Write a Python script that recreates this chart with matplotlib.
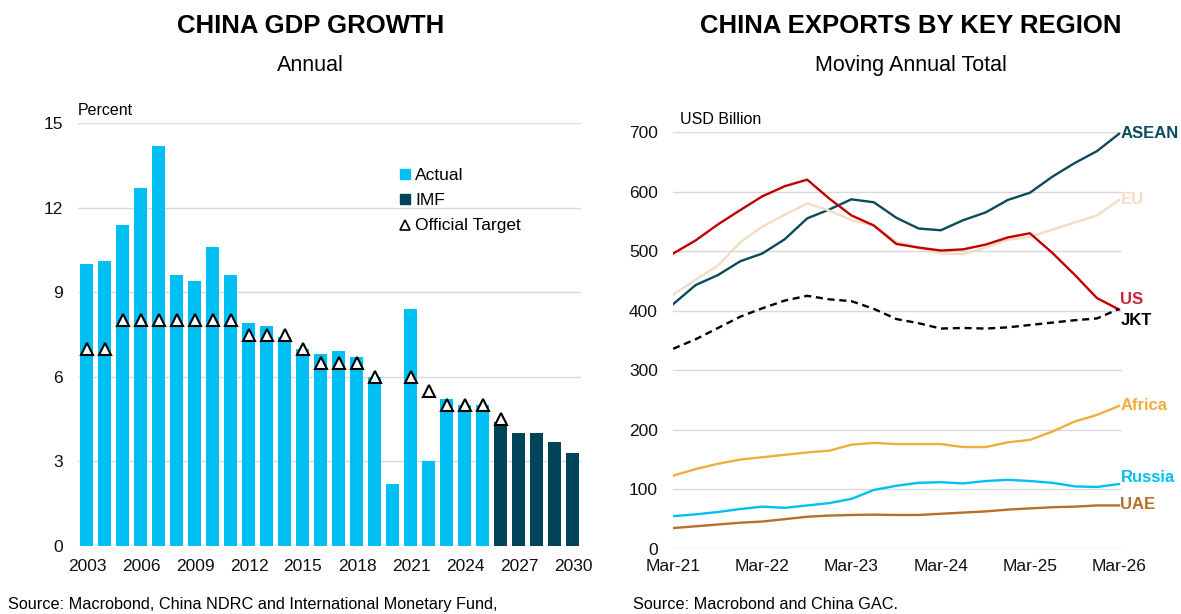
import numpy as np
import pandas as pd
import matplotlib
matplotlib.use("Agg")
from matplotlib import pyplot as plt
from matplotlib import dates as mdates
from matplotlib.lines import Line2D
from matplotlib.patches import Patch

plt.rcParams["font.family"] = ["Liberation Sans", "DejaVu Sans"]

# ---- left chart data: China GDP growth, percent
years = list(range(2003, 2031))
actual = [10.0, 10.1, 11.4, 12.7, 14.2, 9.6, 9.4, 10.6, 9.6, 7.9, 7.8, 7.4, 7.0,
          6.8, 6.9, 6.7, 6.0, 2.2, 8.4, 3.0, 5.2, 5.0, 5.0]
imf = [4.4, 4.0, 4.0, 3.7, 3.3]
target = [7, 7, 8, 8, 8, 8, 8, 8, 8, 7.5, 7.5, 7.5, 7, 6.5, 6.5, 6.5, 6, np.nan,
          6, 5.5, 5, 5, 5, 4.5, np.nan, np.nan, np.nan, np.nan]
year_ticks = [2003, 2006, 2009, 2012, 2015, 2018, 2021, 2024, 2027, 2030]

# ---- right chart data: exports by region, USD bn, moving annual total (quarterly reads)
dates = pd.date_range("2021-03-01", "2026-03-01", freq="3MS")
asean = [411, 443, 460, 483, 496, 520, 555, 570, 587, 582, 556, 538, 535, 552, 565,
         586, 598, 625, 648, 668, 697]
eu = [427, 452, 476, 515, 541, 561, 580, 568, 552, 543, 516, 505, 496, 495, 506,
      519, 524, 536, 548, 560, 586]
us = [496, 518, 545, 569, 592, 609, 620, 588, 560, 543, 512, 506, 501, 503, 511,
      523, 530, 497, 460, 421, 402]
jkt = [336, 352, 371, 390, 404, 417, 425, 419, 416, 403, 386, 379, 370, 371, 370,
       372, 376, 380, 384, 387, 403]
africa = [123, 134, 143, 150, 154, 158, 162, 165, 175, 178, 176, 176, 176, 171, 171,
          179, 183, 197, 214, 225, 240]
russia = [55, 58, 62, 67, 71, 69, 73, 77, 84, 99, 106, 111, 112, 110, 114, 116, 114,
          111, 105, 104, 109]
uae = [35, 38, 41, 44, 46, 50, 54, 56, 57, 57.5, 57, 57, 59, 61, 63, 66, 68, 70, 71,
       73, 73]

LIGHT_BLUE = "#00C0F3"
DARK_TEAL = "#00435A"
GRID = "#D9D9D9"
TICK_FS = 12.5

fig = plt.figure(figsize=(11.81, 6.14), dpi=100)

# ================= left chart =================
ax1 = fig.add_axes([0.066, 0.1107, 0.426, 0.689])
x_act = np.arange(len(actual))
x_imf = np.arange(len(actual), len(actual) + len(imf))
ax1.bar(x_act, actual, width=0.72, color=LIGHT_BLUE, zorder=2)
ax1.bar(x_imf, imf, width=0.72, color=DARK_TEAL, zorder=2)
ax1.plot(np.arange(len(years)), target, ls="none", marker="^", ms=9,
         mfc="white", mec="black", mew=1.5, zorder=3)

ax1.set_xlim(-0.5, len(years) - 0.55)
ax1.set_ylim(0, 15)
ax1.set_yticks(range(0, 16, 3))
ax1.set_xticks([years.index(y) for y in year_ticks])
ax1.set_xticklabels([str(y) for y in year_ticks])
ax1.grid(axis="y", color=GRID, lw=1, zorder=0)
ax1.tick_params(length=0, labelsize=TICK_FS, colors="#111111")
ax1.tick_params(axis="y", pad=11)
ax1.tick_params(axis="x", pad=9)
for s in ax1.spines.values():
    s.set_visible(False)
ax1.text(0.0, 1.012, "Percent", transform=ax1.transAxes, fontsize=11.5, va="bottom")

handles = [Patch(color=LIGHT_BLUE), Patch(color=DARK_TEAL),
           Line2D([], [], ls="none", marker="^", ms=7, mfc="white", mec="black", mew=1.2)]
ax1.legend(handles, ["Actual", "IMF", "Official Target"], loc="upper left",
           bbox_to_anchor=(0.61, 0.93), frameon=False, fontsize=12.5,
           handlelength=0.55, handleheight=0.55, handletextpad=0.3, labelspacing=0.58)

fig.text(0.263, 0.958, "CHINA GDP GROWTH", ha="center", va="center",
         fontsize=18.5, fontweight="bold")
fig.text(0.263, 0.894, "Annual", ha="center", va="center", fontsize=15.5)
fig.text(0.007, 0.015, "Source: Macrobond, China NDRC and International Monetary Fund,",
         fontsize=11.7, va="center")

# ================= right chart =================
ax2 = fig.add_axes([0.570, 0.106, 0.380, 0.679])
series = [
    ("ASEAN", asean, "#0B4A5B", "#0B4A5B", "-"),
    ("EU", eu, "#F3DCC6", "#F3DCC6", "-"),
    ("US", us, "#C00000", "#C8253A", "-"),
    ("JKT", jkt, "black", "black", (0, (3, 2))),
    ("Africa", africa, "#F0AD3C", "#F0AD3C", "-"),
    ("Russia", russia, "#00BFF3", "#00BFF3", "-"),
    ("UAE", uae, "#B56F2B", "#B56F2B", "-"),
]
label_offsets = {"ASEAN": 0, "EU": 0, "US": 7, "JKT": -8, "Africa": 0,
                 "Russia": 5, "UAE": 1}
for name, vals, col, lab_col, ls in series:
    ax2.plot(dates, vals, color=col, lw=1.7, ls=ls, zorder=3)
    ax2.annotate(name, (dates[-1], vals[-1]), xytext=(1, label_offsets[name]),
                 textcoords="offset points", color=lab_col, fontsize=12,
                 fontweight="bold", va="center", ha="left", annotation_clip=False)

ax2.set_ylim(0, 700)
ax2.set_yticks(range(0, 701, 100))
ax2.set_xlim(dates[0], dates[-1] + pd.Timedelta(days=12))
ax2.set_xticks(pd.date_range("2021-03-01", "2026-03-01", freq="12MS"))
ax2.xaxis.set_major_formatter(mdates.DateFormatter("%b-%y"))
ax2.grid(axis="y", color=GRID, lw=1, zorder=0)
ax2.tick_params(length=0, labelsize=TICK_FS, colors="#111111")
ax2.tick_params(axis="y", pad=11)
ax2.tick_params(axis="x", pad=7)
for s in ax2.spines.values():
    s.set_visible(False)
ax2.text(0.015, 1.012, "USD Billion", transform=ax2.transAxes, fontsize=11.5, va="bottom")

fig.text(0.771, 0.958, "CHINA EXPORTS BY KEY REGION", ha="center", va="center",
         fontsize=18.5, fontweight="bold")
fig.text(0.771, 0.894, "Moving Annual Total", ha="center", va="center", fontsize=15.5)
fig.text(0.536, 0.015, "Source: Macrobond and China GAC.", fontsize=11.7, va="center")

fig.savefig("out.png", dpi=100)
